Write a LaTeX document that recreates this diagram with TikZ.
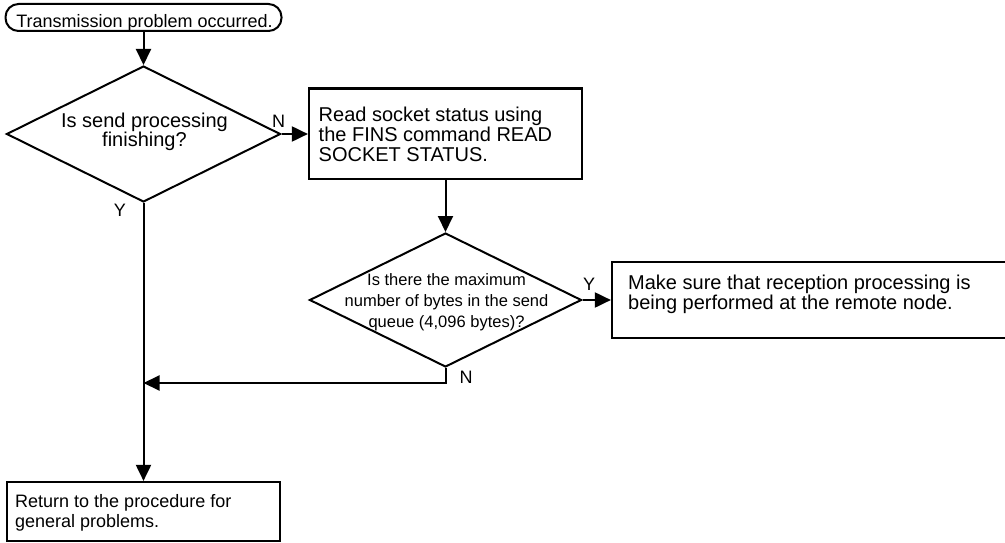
\documentclass[tikz,border=0pt]{standalone}
\usepackage{fontspec}
\setmainfont{Liberation Sans}
\usetikzlibrary{shapes.geometric,arrows.meta}
\begin{document}
\begin{tikzpicture}[x=1pt,y=-1pt,
  box/.style={draw,line width=2.2pt,inner sep=0pt,rectangle},
  dia/.style={draw,line width=2pt,diamond,inner sep=0pt},
  txt/.style={inner sep=0pt,align=left},
  ctxt/.style={inner sep=0pt,align=center},
  conn/.style={line width=2pt},
  arr/.style={conn,-{Triangle[length=16pt,width=15pt]}},
  lbl/.style={font=\fontsize{18}{18}\selectfont,inner sep=0pt},
  ]
\useasboundingbox (0,0) rectangle (1005,543);
% start terminal
\node[draw,line width=2pt,rounded corners=13pt,minimum width=276pt,minimum height=27pt,inner sep=0pt] (start) at (143.5,17.5) {};
\node[inner sep=0pt,anchor=base,font=\fontsize{18}{18}\selectfont] (startt) at (144.5,28) {Transmission problem occurred.};
% decision 1
\node[dia,minimum width=274pt,minimum height=136pt] (d1) at (143.5,134) {};
\node[ctxt,font=\fontsize{20}{19}\selectfont] (d1t) at (144.5,132) {Is send processing\\finishing?};
% rect 2
\node[box,minimum width=273pt,minimum height=90.5pt] (r2) at (445.5,133.75) {};
\node[txt,anchor=north west,font=\fontsize{20}{20}\selectfont] (r2t) at (318.5,107) {Read socket status using\\the FINS command READ\\SOCKET STATUS.};
% decision 2
\node[dia,minimum width=272pt,minimum height=134pt] (d2) at (445.5,300) {};
\node[ctxt,font=\fontsize{16.5}{21}\selectfont] (d2t) at (446.5,302.6) {Is there the maximum\\number of bytes in the send\\queue (4,096 bytes)?};
% rect 3
\node[box,minimum width=398pt,minimum height=76pt] (r3) at (811,300) {};
\node[txt,anchor=north west,font=\fontsize{20}{20}\selectfont] (r3t) at (628,275) {Make sure that reception processing is\\being performed at the remote node.};
% rect 4
\node[box,minimum width=273pt,minimum height=59pt] (r4) at (143.5,511.5) {};
\node[txt,anchor=north west,font=\fontsize{18}{20}\selectfont] (r4t) at (15,494) {Return to the procedure for\\general problems.};
% junction
\coordinate (j) at (143.5,383);
% connectors
\draw[arr] (start.south) -- (d1.north);
\draw[arr] (d1.east) -- (d1.east -| r2.west);
\draw[arr] (r2.south) -- (d2.north);
\draw[arr] (d2.east) -- (d2.east -| r3.west);
\draw[arr] (d1.south) -- (r4.north);
\draw[arr] (d2.south) |- (j);
% labels
\node[lbl] (n1) at (278.5,121.5) {N};
\node[lbl] (y1) at (120,210) {Y};
\node[lbl] (y2) at (589,284) {Y};
\node[lbl] (n2) at (466,377) {N};
\end{tikzpicture}
\end{document}
